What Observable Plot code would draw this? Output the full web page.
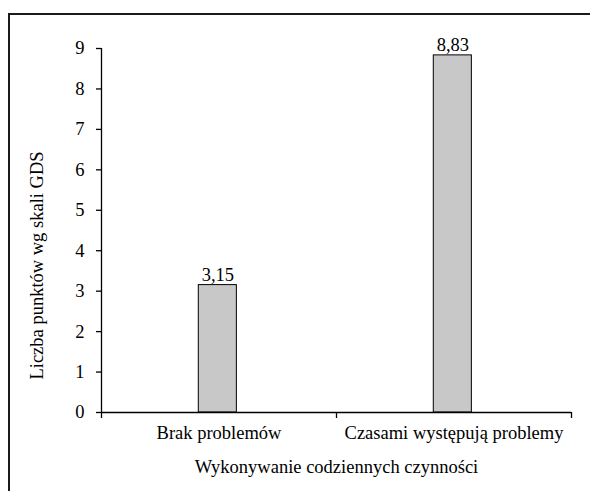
<!DOCTYPE html>
<html>
<head>
<meta charset="utf-8">
<script src="https://cdn.jsdelivr.net/npm/d3@7"></script>
<script src="https://cdn.jsdelivr.net/npm/@observablehq/plot@0.6"></script>
<style>
  html, body { margin: 0; padding: 0; background: #fff; }
  #wrap { position: relative; width: 590px; height: 491px; overflow: hidden; }
  #frame { position: absolute; left: 8px; top: 13px; width: 600px; height: 500px;
           border-left: 2px solid #1a1a1a; border-top: 2px solid #1a1a1a; box-sizing: border-box; }
  #wrap svg { position: absolute; left: 0; top: 0; }
</style>
</head>
<body>
<div id="wrap"><div id="frame"></div></div>
<script>
const categories = ["Brak problemów", "Czasami występują problemy"];
const values = [3.15, 8.83];
const yTicks = [0, 1, 2, 3, 4, 5, 6, 7, 8, 9];
const yTitle = "Liczba punktów wg skali GDS";
const xTitle = "Wykonywanie codziennych czynności";

const data = categories.map((c, i) => ({category: c, index: i, value: values[i]}));
const fmt = v => v.toFixed(2).replace(".", ",");
const half = 0.081;
const fs = 18.5;

const chart = Plot.plot({
  width: 590,
  height: 491,
  marginLeft: 101,
  marginRight: 19,
  marginTop: 48,
  marginBottom: 79,
  style: {fontFamily: "'Liberation Serif', 'DejaVu Serif', serif", fontSize: fs + "px", color: "#000", background: "transparent"},
  x: {domain: [0, 2], axis: null},
  y: {domain: [0, 9], axis: null},
  marks: [
    Plot.rectY(data, {x1: d => d.index + 0.495 - half, x2: d => d.index + 0.495 + half, y1: 0, y2: "value", fill: "#c8c8c8", stroke: "#000", strokeWidth: 1}),
    Plot.axisY({ticks: yTicks, tickSize: 5, tickPadding: 12, label: null, fontSize: fs, stroke: "#000", strokeWidth: 1.3}),
    Plot.axisX({ticks: [0, 1, 2], tickFormat: () => "", tickSize: 6, label: null, stroke: "#000", strokeWidth: 1.3}),
    Plot.ruleX([0], {stroke: "#000", strokeWidth: 1.3}),
    Plot.ruleY([0], {stroke: "#000", strokeWidth: 1.3}),
    Plot.text(data, {x: d => d.index + 0.5, y: 0, text: "category", dy: 21, fontSize: fs, fill: "#000"}),
    Plot.text(data, {x: d => d.index + 0.495, y: "value", text: d => fmt(d.value), lineAnchor: "bottom", dy: -4, fontSize: fs, fill: "#000"}),
    Plot.text([yTitle], {frameAnchor: "left", textAnchor: "middle", rotate: -90, dx: -64, dy: 35, fontSize: fs, fill: "#000"}),
    Plot.text([xTitle], {frameAnchor: "bottom", dy: 60, fontSize: fs, fill: "#000"})
  ]
});
document.getElementById("wrap").appendChild(chart);
</script>
</body>
</html>
